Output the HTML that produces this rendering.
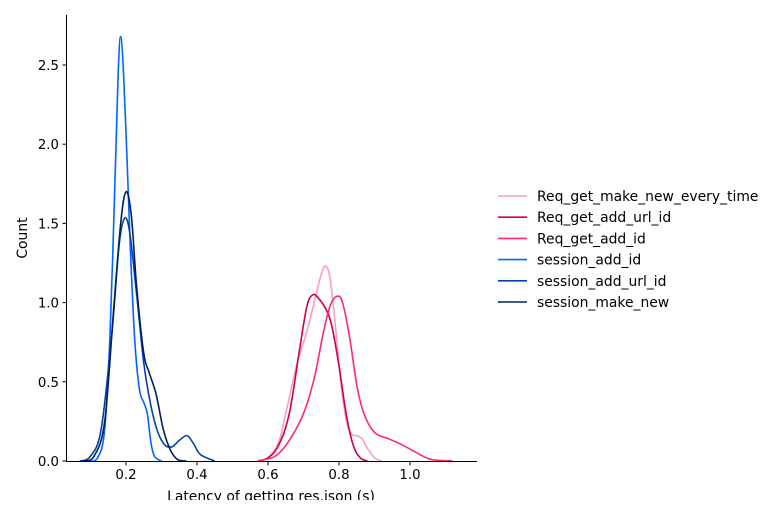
<!DOCTYPE html>
<html><head><meta charset="utf-8"><style>
body{margin:0;background:#fff;width:770px;height:500px;overflow:hidden}
svg text{font-family:"DejaVu Sans","Liberation Sans",sans-serif;font-size:13.3px;fill:#000}
svg text.leg{font-size:13.9px}
</style></head><body>
<svg id="chart" width="770" height="500"></svg>
<script>
const seriesNames=["Req_get_make_new_every_time","Req_get_add_url_id","Req_get_add_id","session_add_id","session_add_url_id","session_make_new"];
const seriesColors=["#f9a0bd","#d20040","#ff2a68","#0064ff","#0340a8","#00205c"];
const xTicks=[0.2,0.4,0.6,0.8,1.0];
const yTicks=[0,0.5,1.0,1.5,2.0,2.5];
const s0x=[0.57,0.6,0.63,0.65,0.68,0.71,0.73,0.75,0.763,0.775,0.79,0.805,0.82,0.835,0.85,0.865,0.88,0.9,0.92];
const s0y=[0,0.02,0.12,0.3,0.6,0.82,1.0,1.18,1.23,1.15,0.85,0.5,0.26,0.17,0.16,0.14,0.08,0.02,0];
const s1x=[0.57,0.6,0.63,0.66,0.69,0.71,0.727,0.745,0.765,0.78,0.8,0.82,0.84,0.86,0.88];
const s1y=[0,0.02,0.1,0.3,0.72,0.98,1.05,1.02,0.95,0.85,0.6,0.3,0.1,0.02,0];
const s2x=[0.57,0.62,0.66,0.7,0.73,0.755,0.775,0.795,0.81,0.83,0.85,0.87,0.9,0.94,0.98,1.02,1.06,1.12];
const s2y=[0,0.03,0.13,0.3,0.52,0.8,0.98,1.04,1.0,0.78,0.48,0.3,0.18,0.14,0.1,0.05,0.01,0];
const s3x=[0.09,0.12,0.14,0.155,0.168,0.178,0.185,0.193,0.203,0.213,0.225,0.238,0.25,0.26,0.27,0.28,0.3];
const s3y=[0,0.02,0.2,0.8,1.7,2.45,2.68,2.45,1.9,1.3,0.75,0.45,0.37,0.3,0.12,0.03,0];
const s4x=[0.07,0.1,0.13,0.16,0.18,0.195,0.21,0.23,0.25,0.27,0.29,0.31,0.33,0.35,0.372,0.39,0.41,0.45];
const s4y=[0,0.03,0.2,0.8,1.35,1.53,1.45,1.05,0.62,0.35,0.18,0.1,0.09,0.13,0.16,0.11,0.04,0];
const s5x=[0.08,0.11,0.14,0.165,0.185,0.2,0.215,0.23,0.25,0.265,0.285,0.305,0.325,0.345,0.37];
const s5y=[0,0.03,0.25,0.95,1.5,1.7,1.55,1.1,0.68,0.56,0.42,0.2,0.07,0.01,0];
const allX=[s0x,s1x,s2x,s3x,s4x,s5x], allY=[s0y,s1y,s2y,s3y,s4y,s5y];
const X=v=>55+355*v, Y=v=>461-158.4*v;
const svg=document.getElementById('chart'), NS="http://www.w3.org/2000/svg";
function mk(t,a){const e=document.createElementNS(NS,t);for(const k in a)e.setAttribute(k,a[k]);svg.appendChild(e);return e;}
function smooth(px,py){let d=`M${px[0]},${py[0]}`;for(let i=0;i<px.length-1;i++){const a=Math.max(i-1,0),b=Math.min(i+2,px.length-1);
const c1x=px[i]+(px[i+1]-px[a])/6,c1y=py[i]+(py[i+1]-py[a])/6,c2x=px[i+1]-(px[b]-px[i])/6,c2y=py[i+1]-(py[b]-py[i])/6;
d+=` C${c1x},${c1y} ${c2x},${c2y} ${px[i+1]},${py[i+1]}`;}return d;}
for(let s=0;s<6;s++){
const p=mk('path',{d:smooth(allX[s].map(X),allY[s].map(Y)),fill:'none',stroke:seriesColors[s],'stroke-width':1.6});


}
const ax=mk('path',{d:'M66.5,15 V461.5 H477',fill:'none',stroke:'#000','stroke-width':1});


xTicks.forEach(v=>{const x=X(v);mk('line',{x1:x,x2:x,y1:461.5,y2:465.5,stroke:'#000'});
const t=mk('text',{x:x,y:479,'text-anchor':'middle'});t.textContent=v.toFixed(1);

});
yTicks.forEach(v=>{const y=Y(v);mk('line',{x1:62.5,x2:66.5,y1:y,y2:y,stroke:'#000'});
const t=mk('text',{x:59,y:y+5,'text-anchor':'end'});t.textContent=v.toFixed(1);

});
const xl=mk('text',{x:271,y:501,'text-anchor':'middle',class:'leg'});xl.textContent='Latency of getting res.json (s)';


const yl=mk('text',{x:27,y:238,'text-anchor':'middle',transform:'rotate(-90 27 238)',class:'leg'});yl.textContent='Count';


seriesNames.forEach((n,i)=>{const y=196+i*21.2;
mk('line',{x1:498,x2:527,y1:y,y2:y,stroke:seriesColors[i],'stroke-width':1.6});
const t=mk('text',{x:537,y:y+5,class:'leg'});t.textContent=n;

});
</script>
</body></html>
